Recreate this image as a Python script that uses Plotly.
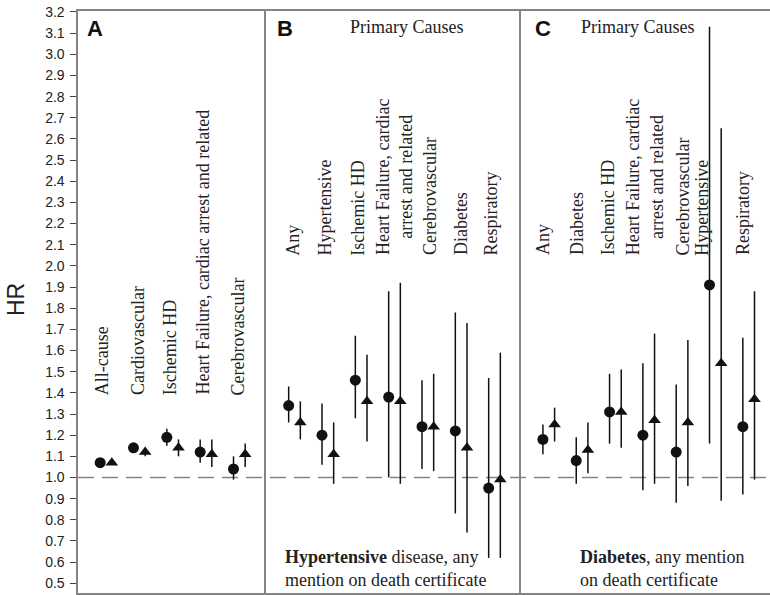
import plotly.graph_objects as go

# ---------------- data ----------------
A_labels = ["All-cause", "Cardiovascular", "Ischemic HD",
            "Heart Failure, cardiac arrest and related", "Cerebrovascular"]
A_circle = [1.07, 1.14, 1.19, 1.12, 1.04]
A_circle_lo = [1.06, 1.12, 1.15, 1.07, 0.99]
A_circle_hi = [1.08, 1.16, 1.23, 1.18, 1.10]
A_tri = [1.07, 1.12, 1.14, 1.11, 1.11]
A_tri_lo = [1.06, 1.10, 1.10, 1.05, 1.05]
A_tri_hi = [1.08, 1.14, 1.18, 1.18, 1.16]

B_labels = ["Any", "Hypertensive", "Ischemic HD",
            "Heart Failure, cardiac<br>arrest and related", "Cerebrovascular",
            "Diabetes", "Respiratory"]
B_circle = [1.34, 1.20, 1.46, 1.38, 1.24, 1.22, 0.95]
B_circle_lo = [1.26, 1.06, 1.28, 1.00, 1.04, 0.83, 0.62]
B_circle_hi = [1.43, 1.35, 1.67, 1.88, 1.46, 1.78, 1.47]
B_tri = [1.26, 1.11, 1.36, 1.36, 1.24, 1.14, 0.99]
B_tri_lo = [1.18, 0.97, 1.17, 0.97, 1.03, 0.74, 0.62]
B_tri_hi = [1.36, 1.26, 1.58, 1.92, 1.49, 1.73, 1.59]

C_labels = ["Any", "Diabetes", "Ischemic HD",
            "Heart Failure, cardiac<br>arrest and related", "Cerebrovascular",
            "Hypertensive", "Respiratory"]
C_circle = [1.18, 1.08, 1.31, 1.20, 1.12, 1.91, 1.24]
C_circle_lo = [1.11, 0.97, 1.16, 0.94, 0.88, 1.16, 0.92]
C_circle_hi = [1.25, 1.19, 1.49, 1.54, 1.44, 3.13, 1.66]
C_tri = [1.25, 1.13, 1.31, 1.27, 1.26, 1.54, 1.37]
C_tri_lo = [1.17, 1.02, 1.14, 0.97, 0.96, 0.89, 0.99]
C_tri_hi = [1.33, 1.26, 1.51, 1.68, 1.65, 2.65, 1.88]

y_ticks = [round(0.5 + 0.1 * i, 1) for i in range(28)]

# ---------------- style / layout ----------------
SERIF = "Liberation Serif, Times New Roman, serif"
SANS = "Liberation Sans, Arial, sans-serif"
GRAY = "#858585"
OFF = 0.175
FS = 18

panels = [
    dict(labels=A_labels, c=A_circle, clo=A_circle_lo, chi=A_circle_hi,
         t=A_tri, tlo=A_tri_lo, thi=A_tri_hi, xa="x", ya="y",
         lab_off=[-0.13, -0.06, -0.09, -0.09, -0.03], lab_y=1.38,
         letter="A", letter_x=-0.33, primary=False),
    dict(labels=B_labels, c=B_circle, clo=B_circle_lo, chi=B_circle_hi,
         t=B_tri, tlo=B_tri_lo, thi=B_tri_hi, xa="x2", ya="y2",
         lab_off=[-0.05, -0.08, -0.1, 0.0, 0.08, 0.0, -0.1], lab_y=2.04,
         letter="B", letter_x=-0.285, primary=True, prim_x=3.37,
         note="<b>Hypertensive</b> disease, any<br>mention on death certificate",
         note_x=-0.345),
    dict(labels=C_labels, c=C_circle, clo=C_circle_lo, chi=C_circle_hi,
         t=C_tri, tlo=C_tri_lo, thi=C_tri_hi, xa="x3", ya="y3",
         lab_off=[-0.17, -0.15, -0.21, -0.12, 0.03, -0.39, -0.15], lab_y=2.04,
         letter="C", letter_x=-0.17, primary=True, prim_x=2.67,
         note="<b>Diabetes</b>, any mention<br>on death certificate",
         note_x=0.88),
]

fig = go.Figure()
annotations = []
for p in panels:
    n = len(p["labels"])
    xs = list(range(n))
    fig.add_trace(go.Scatter(
        x=[i - OFF for i in xs], y=p["c"], xaxis=p["xa"], yaxis=p["ya"],
        mode="markers", showlegend=False, hoverinfo="skip",
        marker=dict(symbol="circle", size=11, color="#111111"),
        error_y=dict(type="data", symmetric=False,
                     array=[h - v for h, v in zip(p["chi"], p["c"])],
                     arrayminus=[v - l for l, v in zip(p["clo"], p["c"])],
                     color="#111111", thickness=1.5, width=0)))
    fig.add_trace(go.Scatter(
        x=[i + OFF for i in xs], y=p["t"], xaxis=p["xa"], yaxis=p["ya"],
        mode="markers", showlegend=False, hoverinfo="skip",
        marker=dict(symbol="triangle-up", size=11, color="#111111"),
        error_y=dict(type="data", symmetric=False,
                     array=[h - v for h, v in zip(p["thi"], p["t"])],
                     arrayminus=[v - l for l, v in zip(p["tlo"], p["t"])],
                     color="#111111", thickness=1.5, width=0)))
    for i, lab in enumerate(p["labels"]):
        annotations.append(dict(
            x=i + p["lab_off"][i], y=p["lab_y"], xref=p["xa"], yref=p["ya"],
            text=lab, textangle=-90, showarrow=False, xanchor="center",
            yanchor="bottom", align="center",
            font=dict(family=SERIF, size=FS, color="#222222")))
    annotations.append(dict(
        x=p["letter_x"], y=3.12, xref=p["xa"], yref=p["ya"], text="<b>%s</b>" % p["letter"],
        showarrow=False, xanchor="center", yanchor="middle",
        font=dict(family=SANS, size=22, color="#111111")))
    if p["primary"]:
        annotations.append(dict(
            x=p["prim_x"], y=3.13, xref=p["xa"], yref=p["ya"], text="Primary Causes",
            showarrow=False, xanchor="center", yanchor="middle",
            font=dict(family=SERIF, size=FS, color="#222222")))
        annotations.append(dict(
            x=p["note_x"], y=0.568, xref=p["xa"], yref=p["ya"], text=p["note"],
            showarrow=False, xanchor="left", yanchor="middle", align="left",
            font=dict(family=SERIF, size=FS, color="#222222")))

annotations.append(dict(
    x=(16 - 78) / 692, y=1 - (300 - 11) / 582, xref="paper", yref="paper", text="HR",
    textangle=-90, showarrow=False, xanchor="center", yanchor="middle",
    font=dict(family=SANS, size=23, color="#222222")))

d1 = (266 - 78) / 692
d2 = (521 - 78) / 692
yr = [0.454, 3.2047]

xcommon = dict(showline=True, linecolor=GRAY, linewidth=1.6, mirror=True,
               showticklabels=False, ticks="", showgrid=False, zeroline=False)
fig.update_layout(
    width=770, height=595,
    margin=dict(l=78, r=0, t=11, b=2),
    paper_bgcolor="white", plot_bgcolor="white",
    hovermode=False,
    xaxis=dict(domain=[0, d1], range=[-0.84, 4.80], **xcommon),
    xaxis2=dict(domain=[d1, d2], range=[-0.855, 6.795], **xcommon),
    xaxis3=dict(domain=[d2, 1], range=[-0.833, 6.64], **xcommon),
    yaxis=dict(range=yr, anchor="x", tickmode="array", tickvals=y_ticks,
               ticktext=["%.1f" % v for v in y_ticks], ticks="outside",
               ticklen=6, tickcolor="#444444", tickwidth=1,
               ticklabelstandoff=3,
               tickfont=dict(family=SANS, size=14, color="#222222"),
               showline=True, linecolor=GRAY, linewidth=1.6,
               showgrid=False, zeroline=False),
    yaxis2=dict(range=yr, anchor="x2", showticklabels=False, ticks="",
                showline=True, linecolor=GRAY, linewidth=1.6,
                showgrid=False, zeroline=False),
    yaxis3=dict(range=yr, anchor="x3", showticklabels=False, ticks="",
                showline=True, linecolor=GRAY, linewidth=1.6,
                showgrid=False, zeroline=False),
    annotations=annotations,
    shapes=[dict(type="line", xref="paper", yref="y", x0=0, x1=1, y0=1.0, y1=1.0,
                 line=dict(color=GRAY, width=1.5, dash="16px,8px"), layer="below")],
)

fig.write_html(
    "out.html",
    config={"displayModeBar": False, "staticPlot": True},
    post_script="document.body.style.margin='0';document.body.style.overflow='hidden';",
)
